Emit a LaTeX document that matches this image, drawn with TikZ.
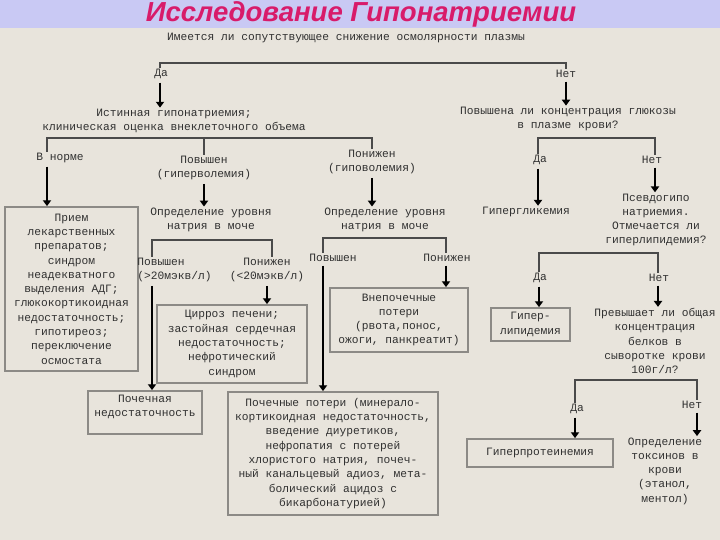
\documentclass[tikz,border=0pt]{standalone}
\usepackage{fontspec}
\usetikzlibrary{arrows.meta,calc}
\newfontfamily\monofont{Liberation Mono}
\newfontfamily\headfont{Liberation Sans}
\definecolor{paper}{HTML}{E8E4DC}
\definecolor{band}{HTML}{C9C9F4}
\definecolor{headink}{HTML}{D81B6A}
\definecolor{ink}{HTML}{303030}
\definecolor{frame}{HTML}{8C8A86}
\definecolor{bar}{HTML}{4A4A4A}

\begin{document}
\begin{tikzpicture}[
  x=0.03cm, y=-0.03cm,
  font=\monofont\fontsize{9.6}{12.2}\selectfont,
  >={Triangle[width=7pt,length=5pt]},
  txt/.style={align=center,text=ink,inner sep=1pt},
  ans/.style={text=ink,inner sep=1pt},
  box/.style={draw=frame,line width=1.5pt,align=center,text=ink,inner sep=2pt},
  bracket/.style={draw=bar,line width=1.7pt},
  arrow/.style={->,line width=1.1pt,draw=black,shorten <=2pt},
  title/.style={font=\headfont\bfseries\itshape\fontsize{23.5}{28}\selectfont,text=headink}
]

% Background and title band
\fill[paper] (0,0) rectangle (720,540);
\fill[band] (0,0) rectangle (720,28);
\useasboundingbox (0,0) rectangle (720,540);
\node[title] (title) at (361,14) {Исследование Гипонатриемии};

% Top question
\node[txt] (q1) at (346,38) {Имеется ли сопутствующее снижение осмолярности плазмы};
\coordinate (b1l) at (160,63);
\coordinate (b1r) at (566,63);
\node[ans] (yes1) at (161,74) {Да};
\node[ans] (no1) at (566,74) {Нет};

\node[txt] (truehypo) at (174,121)
  {Истинная гипонатриемия;\\клиническая оценка внеклеточного объема};
\node[txt] (glucose) at (568,119)
  {Повышена ли концентрация глюкозы\\в плазме крови?};

% Volume branches
\coordinate (b2l) at (47,138);
\coordinate (b2m) at (204,138);
\coordinate (b2r) at (372,138);
\node[ans] (norm) at (60,158) {В норме};
\node[txt] (hypervol) at (204,168) {Повышен\\(гиперволемия)};
\node[txt] (hypovol) at (372,162) {Понижен\\(гиповолемия)};

% Glucose branches
\coordinate (b4l) at (538,138);
\coordinate (b4r) at (655,138);
\node[ans] (yes2) at (540,160) {Да};
\node[ans] (no2) at (652,160) {Нет};

% Second row
\node[box,minimum width=3.99cm,minimum height=4.92cm] (drugs) at (71.5,289)
  {Прием\\лекарственных\\препаратов;\\синдром\\неадекватного\\выделения АДГ;\\глюкокортикоидная\\недостаточность;\\гипотиреоз;\\переключение\\осмостата};
\node[txt] (nalevel1) at (211,220) {Определение уровня\\натрия в моче};
\node[txt] (nalevel2) at (385,220) {Определение уровня\\натрия в моче};
\node[ans] (hyperglyc) at (526,212) {Гипергликемия};
\node[txt] (pseudo) at (656,220)
  {Псевдогипо\\натриемия.\\Отмечается ли\\гиперлипидемия?};

% Urine sodium, hypervolemia
\coordinate (b3l) at (152,240);
\coordinate (b3r) at (272,240);
\node[txt,align=left,anchor=west] (gt20) at (136,270) {Повышен\\(>20мэкв/л)};
\node[txt] (lt20) at (267,270) {Понижен\\(<20мэкв/л)};

% Urine sodium, hypovolemia
\coordinate (b5l) at (323,238);
\coordinate (b5r) at (446,238);
\node[ans] (up2) at (333,258) {Повышен};
\node[ans] (down2) at (447,258) {Понижен};

% Lipids
\coordinate (b6l) at (539,253);
\coordinate (b6r) at (658,253);
\node[ans] (yes3) at (540,278) {Да};
\node[ans] (no3) at (659,278) {Нет};

% Third row
\node[box,minimum width=4.5cm,minimum height=2.34cm] (cirrhosis) at (232,344)
  {Цирроз печени;\\застойная сердечная\\недостаточность;\\нефротический\\синдром};
\node[box,minimum width=4.14cm,minimum height=1.92cm] (extrarenal) at (399,320)
  {Внепочечные\\потери\\(рвота,понос,\\ожоги, панкреатит)};
\node[box,minimum width=2.37cm,minimum height=0.99cm] (hyperlip) at (530.5,324.5)
  {Гипер-\\липидемия};
\node[txt] (protein) at (655,341)
  {Превышает ли общая\\концентрация\\белков в\\сыворотке крови\\100г/л?};

% Protein branches
\coordinate (b7l) at (575,380);
\coordinate (b7r) at (697,380);
\node[ans] (yes4) at (577,409) {Да};
\node[ans] (no4) at (692,405) {Нет};

% Bottom row
\node[box,minimum width=3.42cm,minimum height=1.29cm] (renalfail) at (145,412.5)
  {Почечная\\недостаточность\\[-4pt]\strut};
\node[box,minimum width=6.3cm,minimum height=3.69cm] (renalloss) at (333,453.5)
  {Почечные потери (минерало-\\кортикоидная недостаточность,\\введение диуретиков,\\нефропатия с потерей\\хлористого натрия, почеч-\\ный канальцевый адиоз, мета-\\болический ацидоз с\\бикарбонатурией)};
\node[box,minimum width=4.38cm,minimum height=0.84cm] (hyperprot) at (540,453) {Гиперпротеинемия};
\node[txt] (toxins) at (665,471)
  {Определение\\токсинов в\\крови\\(этанол,\\ментол)};

% Brackets
\draw[bracket] (b1l |- yes1.north) -- (b1l) -- (b1r) -- (b1r |- no1.north);
\draw[bracket] (b2l |- norm.north) -- (b2l) -- (b2r) -- (b2r |- hypovol.north);
\draw[bracket] (b2m) -- (b2m |- hypervol.north);
\draw[bracket] (b4l |- yes2.north) -- (b4l) -- (b4r) -- (b4r |- no2.north);
\draw[bracket] (b3l |- gt20.north) -- (b3l) -- (b3r) -- (b3r |- lt20.north);
\draw[bracket] (b5l |- up2.north) -- (b5l) -- (b5r) -- (b5r |- down2.north);
\draw[bracket] (b6l |- yes3.north) -- (b6l) -- (b6r) -- (b6r |- no3.north);
\draw[bracket] (b7l |- yes4.north) -- (b7l) -- (b7r) -- (b7r |- no4.north);

% Flow
\draw[arrow] (b1l |- yes1.south) -- (b1l |- truehypo.north);
\draw[arrow] (b1r |- no1.south) -- (b1r |- glucose.north);
\draw[arrow] (b2l |- norm.south) -- (b2l |- drugs.north);
\draw[arrow] (b2m |- hypervol.south) -- (b2m |- nalevel1.north);
\draw[arrow] (b2r |- hypovol.south) -- (b2r |- nalevel2.north);
\draw[arrow] (b4l |- yes2.south) -- (b4l |- hyperglyc.north);
\draw[arrow] (b4r |- no2.south) -- (b4r |- pseudo.north);
\draw[arrow] (b3l |- gt20.south) -- (b3l |- renalfail.north);
\draw[arrow] (lt20.south) -- (lt20.south |- cirrhosis.north);
\draw[arrow] (b5l |- up2.south) -- (b5l |- renalloss.north);
\draw[arrow] (b5r |- down2.south) -- (b5r |- extrarenal.north);
\draw[arrow] (b6l |- yes3.south) -- (b6l |- hyperlip.north);
\draw[arrow] (b6r |- no3.south) -- (b6r |- protein.north);
\draw[arrow] (b7l |- yes4.south) -- (b7l |- hyperprot.north);
\draw[arrow] (b7r |- no4.south) -- (b7r |- toxins.north);

\end{tikzpicture}
\end{document}
